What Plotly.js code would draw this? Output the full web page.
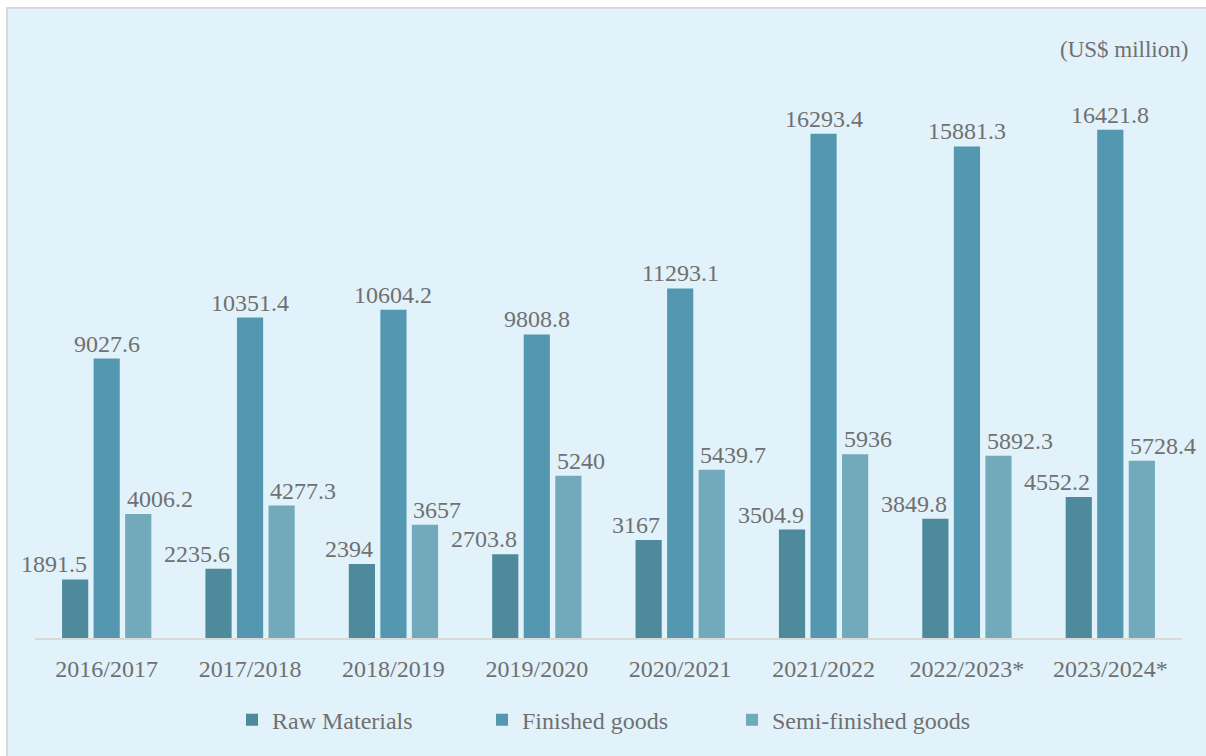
<!DOCTYPE html>
<html>
<head>
<meta charset="utf-8">
<script src="https://cdn.plot.ly/plotly-3.0.1.min.js"></script>
<style>
  html, body { margin: 0; padding: 0; background: #ffffff; width: 1206px; height: 756px; overflow: hidden; }
  #frame { position: absolute; left: 6px; top: 7px; width: 1200px; height: 749px; border-left: 2px solid #d9d9d9; border-top: 2px solid #d9d9d9; box-sizing: border-box; background: #e1f2fa; }
  #chart { position: absolute; left: 0; top: 0; width: 1198px; height: 747px; }
</style>
</head>
<body>
<div id="frame"><div id="chart"></div></div>
<script>
const categories = ["2016/2017", "2017/2018", "2018/2019", "2019/2020", "2020/2021", "2021/2022", "2022/2023*", "2023/2024*"];
const rawMaterials = [1891.5, 2235.6, 2394, 2703.8, 3167, 3504.9, 3849.8, 4552.2];
const finishedGoods = [9027.6, 10351.4, 10604.2, 9808.8, 11293.1, 16293.4, 15881.3, 16421.8];
const semiFinishedGoods = [4006.2, 4277.3, 3657, 5240, 5439.7, 5936, 5892.3, 5728.4];
const seriesNames = ["Raw Materials", "Finished goods", "Semi-finished goods"];
const unitLabel = "(US$ million)";

const colors = ["#4e8a9b", "#5398b0", "#72aabb"];
const textColor = "#707070";
const fontFamily = "Liberation Serif";
const fs = 24;

const seriesData = [rawMaterials, finishedGoods, semiFinishedGoods];
const traces = seriesData.map((vals, i) => ({
  type: "bar",
  name: seriesNames[i],
  x: categories,
  y: vals,
  marker: { color: colors[i], line: { width: 0 } },
  hoverinfo: "x+y+name"
}));

const annotations = [];
// raw labels right-aligned to the bar's right edge, finished centred, semi left-aligned to the bar's left edge
const anchors = ["right", "center", "left"];
const shifts = [-18, 0, 18];
seriesData.forEach((vals, i) => {
  vals.forEach((v, j) => {
    annotations.push({
      x: categories[j], y: v, xref: "x", yref: "y",
      text: String(v), showarrow: false,
      xanchor: anchors[i], yanchor: "bottom",
      xshift: shifts[i], yshift: 0,
      font: { family: fontFamily, size: fs, color: textColor }
    });
  });
});
annotations.push({
  text: unitLabel, showarrow: false,
  xref: "paper", yref: "paper",
  x: 1.007, y: 0.95, xanchor: "right", yanchor: "middle",
  font: { family: fontFamily, size: 23, color: textColor }
});

const layout = {
  width: 1198, height: 747,
  margin: { l: 27, r: 24, t: 10, b: 118 },
  paper_bgcolor: "rgba(0,0,0,0)",
  plot_bgcolor: "rgba(0,0,0,0)",
  barmode: "group",
  bargap: 0.34,
  bargroupgap: 0.17,
  font: { family: fontFamily, size: fs, color: textColor },
  xaxis: {
    type: "category",
    range: [-0.5, categories.length - 0.5],
    autorange: false,
    showline: true, linecolor: "#d9d9d9", linewidth: 2,
    showgrid: false, zeroline: false, ticks: "",
    ticklabelstandoff: 8,
    tickfont: { family: fontFamily, size: fs, color: textColor },
    fixedrange: true
  },
  yaxis: {
    range: [0, 20000], autorange: false,
    visible: false, showgrid: false, zeroline: false, fixedrange: true
  },
  showlegend: true,
  legend: {
    orientation: "h",
    xref: "container", yref: "container",
    x: 0.5, xanchor: "center",
    y: 0.048, yanchor: "middle",
    entrywidth: 205,
    font: { family: fontFamily, size: fs, color: textColor },
    bgcolor: "rgba(0,0,0,0)",
    itemclick: false, itemdoubleclick: false
  },
  annotations: annotations
};

Plotly.newPlot("chart", traces, layout, { displayModeBar: false, staticPlot: true });
</script>
</body>
</html>
